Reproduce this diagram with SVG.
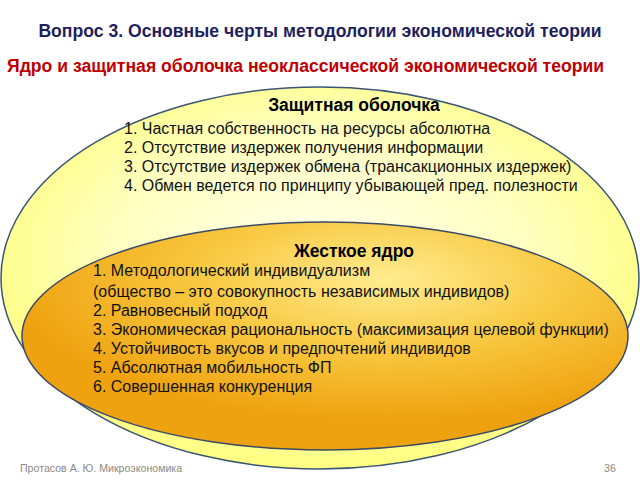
<svg xmlns="http://www.w3.org/2000/svg" width="640" height="480" viewBox="0 0 640 480">
<style>
.title{font-family:"Liberation Sans",Arial,sans-serif;font-weight:bold;font-size:17.6px}
.head{font-family:"Liberation Sans",Arial,sans-serif;font-weight:bold;font-size:17.5px;fill:#000;text-anchor:middle}
.item{font-family:"Liberation Sans",Arial,sans-serif;font-size:16px;fill:#111}
.foot{font-family:"Liberation Sans",Arial,sans-serif;font-size:10.6px;fill:#8a8a8a}
</style>
<defs>
<radialGradient id="gOuter" cx="50%" cy="45%" r="55%">
<stop offset="0" stop-color="#FFFFEE"/>
<stop offset="0.6" stop-color="#FFFFC0"/>
<stop offset="1" stop-color="#FFFF80"/>
</radialGradient>
<radialGradient id="gInner" cx="60%" cy="25%" r="62%">
<stop offset="0" stop-color="#FFEC90"/>
<stop offset="0.5" stop-color="#F8C840"/>
<stop offset="1" stop-color="#EFA210"/>
</radialGradient>
</defs>
<rect width="640" height="480" fill="#fff"/>
<text class="title" x="320" y="37" text-anchor="middle" fill="#1F1F5F">Вопрос 3. Основные черты методологии экономической теории</text>
<text class="title" x="7" y="72" fill="#C00000">Ядро и защитная оболочка неоклассической экономической теории</text>
<g id="outer">
<ellipse cx="320" cy="278" rx="319" ry="191" fill="url(#gOuter)" stroke="#3A5577" stroke-width="1.5"/>
<text class="head" x="354" y="111">Защитная оболочка</text>
<text class="item" x="124" y="134">1. Частная собственность на ресурсы абсолютна</text>
<text class="item" x="124" y="153">2. Отсутствие издержек получения информации</text>
<text class="item" x="124" y="172">3. Отсутствие издержек обмена (трансакционных издержек)</text>
<text class="item" x="124" y="191">4. Обмен ведется по принципу убывающей пред. полезности</text>
</g>
<g id="inner">
<ellipse cx="325" cy="336" rx="303" ry="114" fill="url(#gInner)" stroke="#3A4A66" stroke-width="1.5"/>
<text class="head" x="354" y="257">Жесткое ядро</text>
<text class="item" x="93" y="276">1. Методологический индивидуализм</text>
<text class="item" x="93" y="297">(общество – это совокупность независимых индивидов)</text>
<text class="item" x="93" y="316">2. Равновесный подход</text>
<text class="item" x="93" y="335">3. Экономическая рациональность (максимизация целевой функции)</text>
<text class="item" x="93" y="354">4. Устойчивость вкусов и предпочтений индивидов</text>
<text class="item" x="93" y="373">5. Абсолютная мобильность ФП</text>
<text class="item" x="93" y="392">6. Совершенная конкуренция</text>
</g>
<text class="foot" x="20" y="472">Протасов А. Ю. Микроэкономика</text>
<text class="foot" x="604" y="472">36</text>
</svg>
